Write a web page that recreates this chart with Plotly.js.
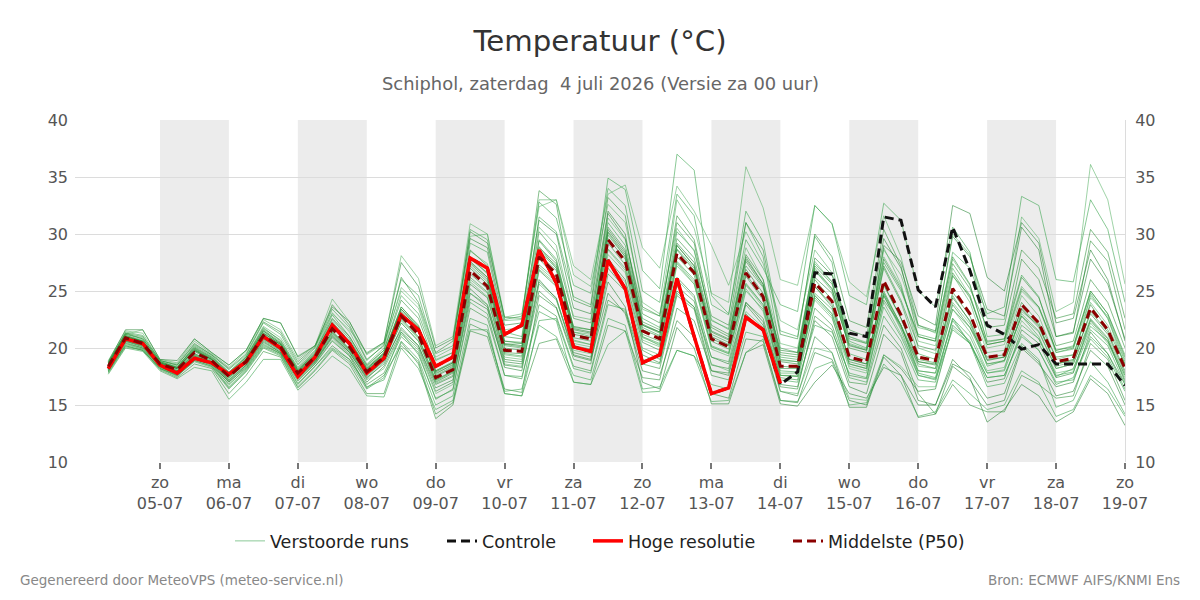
<!DOCTYPE html>
<html>
<head>
<meta charset="utf-8">
<script src="https://cdn.plot.ly/plotly-3.0.1.min.js"></script>
<style>
  html, body { margin: 0; padding: 0; background: #ffffff; }
  #chart { width: 1200px; height: 600px; }
</style>
</head>
<body>
<div id="chart"></div>
<script>
// Forecast run: 6-hourly steps starting Saturday 4 July 2026, 06 UTC
const runStart = Date.UTC(2026, 6, 4, 6, 0);
const stepHours = 6;

// Day ticks on the time axis
const dayTicks = ['2026-07-05', '2026-07-06', '2026-07-07', '2026-07-08', '2026-07-09',
  '2026-07-10', '2026-07-11', '2026-07-12', '2026-07-13', '2026-07-14', '2026-07-15',
  '2026-07-16', '2026-07-17', '2026-07-18', '2026-07-19'];
const dayNames = ['zo', 'ma', 'di', 'wo', 'do', 'vr', 'za', 'zo', 'ma', 'di', 'wo', 'do', 'vr', 'za', 'zo'];
const dayDates = ['05-07', '06-07', '07-07', '08-07', '09-07', '10-07', '11-07', '12-07',
  '13-07', '14-07', '15-07', '16-07', '17-07', '18-07', '19-07'];

// Alternate days get a grey background band
const shadedDays = ['2026-07-05', '2026-07-07', '2026-07-09', '2026-07-11',
  '2026-07-13', '2026-07-15', '2026-07-17'];

const yTicks = [10, 15, 20, 25, 30, 35, 40];

// High-resolution run (ends 14-07 00 UTC)
const hogeResolutie = [18.2, 20.8, 20.4, 18.5, 17.8, 19.1, 18.7, 17.7, 18.8, 21.0,
  20.0, 17.5, 19.2, 22.0, 20.4, 17.8, 19.1, 22.9, 21.6, 18.4,
  19.2, 27.9, 27.0, 21.2, 22.0, 28.6, 25.7, 20.1, 19.7, 27.7,
  25.2, 18.7, 19.4, 26.1, 21.0, 16.0, 16.5, 22.7, 21.6, 16.9];

// Control run
const controle = [18.2, 20.8, 20.4, 18.5, 17.8, 19.1, 18.7, 17.7, 18.8, 21.0,
  20.0, 17.5, 19.2, 22.0, 20.4, 17.8, 19.1, 22.9, 21.6, 18.4,
  19.2, 27.9, 27.0, 21.2, 22.0, 28.6, 25.7, 20.1, 19.7, 27.7,
  25.2, 18.7, 19.4, 26.1, 21.0, 16.0, 16.5, 22.7, 21.6, 16.8,
  17.9, 26.6, 26.5, 21.3, 21.0, 31.5, 31.2, 25.1, 23.6, 30.6,
  26.8, 22.0, 21.2, 19.9, 20.3, 18.6, 18.6, 18.6, 18.6, 16.7];

// Ensemble median
const middelste = [18.4, 20.9, 20.4, 18.6, 18.1, 19.6, 18.9, 17.5, 18.8, 21.1,
  20.1, 17.8, 19.2, 21.7, 20.1, 17.9, 19.2, 22.8, 21.2, 17.4,
  18.1, 26.8, 25.4, 19.8, 19.7, 28.0, 26.5, 21.1, 20.8, 29.5,
  27.6, 21.5, 20.8, 28.3, 26.6, 20.8, 20.1, 26.6, 24.5, 18.4,
  18.4, 25.7, 24.1, 19.2, 18.8, 25.9, 22.9, 19.2, 18.9, 25.2,
  23.0, 19.2, 19.4, 23.8, 22.2, 18.8, 19.1, 23.5, 21.6, 18.2];

// Perturbed ensemble members
const run01 = [18.6,21.3,20.8, 18.8,18.3,20.2,19.3, 17.9,19.2,21.8,20.6, 18.2,19.6,22.9,21.0, 18.4,19.8,24.6,23.0, 18.9,19.6,29.2,28.4, 21.4,21.0,31.5,30.2, 24.5,23.8,34.9,33.9, 26.8,25.2,37.0,35.6, 24.6,23.0,31.0,28.0, 20.0,19.6,27.4,25.8, 20.3,19.8,27.0,24.0, 19.5,19.0,24.6,22.3, 18.4,18.9,22.8,21.0, 17.5,18.2,21.9,20.6, 17.2];
const run02 = [18.0,20.4,20.0, 18.3,17.6,19.0,18.5, 16.8,18.2,20.3,19.5, 17.1,18.6,20.6,19.3, 16.5,17.6,20.2,18.8, 14.2,15.2,22.1,21.4, 16.4,16.1,24.6,23.5, 19.0,18.6,26.5,25.0, 19.8,19.0,25.4,24.1, 18.5,18.2,24.0,22.6, 17.4,17.2,23.5,22.0, 17.6,17.3,24.2,22.0, 18.8,18.5,26.3,24.6, 20.3,20.6,27.8,26.0, 21.0,21.3,29.4,27.6, 21.6];
const run03 = [18.5,21.0,20.6, 18.7,18.2,19.9,19.1, 17.6,19.0,21.4,20.3, 18.0,19.4,22.1,20.4, 18.1,19.6,23.1,21.5, 17.7,18.6,27.5,26.2, 20.3,20.4,28.9,27.0, 21.4,21.2,30.1,28.0, 21.0,20.2,27.4,25.6, 20.1,19.5,25.7,23.8, 18.9,18.8,26.8,25.0, 20.4,19.9,28.6,26.4, 21.8,21.4,30.0,28.2, 22.6,22.5,31.5,29.6, 23.2,24.0,36.1,33.0, 25.6];
const run04 = [18.1,20.6,20.1, 18.4,17.8,19.2,18.6, 17.0,18.4,20.6,19.6, 17.4,18.8,21.0,19.6, 17.3,18.8,21.6,20.2, 16.5,17.2,24.3,23.4, 18.5,18.3,25.0,23.6, 19.3,18.9,24.8,23.0, 18.0,17.6,22.4,21.0, 16.0,15.6,20.8,20.6, 15.4,15.2,19.6,19.0, 15.4,15.0,19.4,18.2, 16.2,16.4,22.0,20.6, 17.0,17.3,21.6,20.4, 17.4,17.8,22.5,20.8, 17.0];
const run05 = [18.7,21.4,21.1, 18.9,18.5,20.3,19.4, 18.1,19.4,22.2,21.2, 18.6,20.0,23.4,21.8, 18.9,20.3,26.0,24.6, 19.5,20.2,30.4,29.5, 22.5,22.8,32.8,31.4, 25.5,24.8,34.0,32.5, 25.0,24.0,33.5,31.6, 23.8,22.9,32.0,29.3, 21.5,21.0,29.8,27.5, 19.5,19.0,25.0,22.0, 17.8,17.4,22.6,20.4, 17.4,17.6,21.2,19.8, 16.8,17.4,21.0,19.5, 16.4];
const run06 = [18.3,20.8,20.3, 18.5,18.0,19.5,18.8, 17.4,18.7,21.0,20.0, 17.7,19.0,21.5,19.9, 17.8,19.1,22.6,21.0, 17.2,18.0,26.5,25.2, 19.6,19.5,27.8,26.2, 20.9,20.6,29.2,27.3, 21.2,20.6,28.0,26.4, 20.6,19.9,26.3,24.2, 18.2,18.2,25.4,23.8, 19.0,18.6,25.6,22.6, 19.0,18.7,24.9,22.8, 19.0,19.2,23.5,22.0, 18.6,18.9,23.2,21.4, 18.0];
const run07 = [18.9,21.5,21.3, 18.9,18.6,20.6,19.5, 18.3,19.7,22.5,21.6, 19.0,20.2,24.3,22.3, 19.4,20.4,25.0,23.5, 19.0,19.6,28.5,27.4, 21.6,21.8,30.6,29.0, 22.8,22.5,31.4,29.5, 23.4,22.8,33.0,30.5, 24.8,24.0,35.9,32.3, 26.0,25.5,32.5,30.9, 25.8,24.5,31.6,28.0, 22.0,21.3,27.8,25.5, 20.5,20.8,25.4,23.6, 19.8,20.2,25.0,23.0, 19.4];
const run08 = [18.2,20.7,20.2, 18.4,17.9,19.4,18.7, 17.2,18.5,20.8,19.8, 17.5,18.9,21.3,19.8, 17.5,18.9,22.2,20.6, 17.0,17.8,25.6,24.4, 19.0,18.8,26.8,25.4, 20.2,19.9,27.8,26.0, 20.5,19.8,26.2,24.6, 19.2,18.6,24.0,22.3, 16.8,16.6,22.4,21.0, 16.6,16.0,21.2,19.6, 15.4,15.0,19.0,17.4, 13.5,14.6,16.8,15.8, 13.5,14.4,17.3,16.0, 13.2];
const run09 = [18.6,21.1,20.7, 18.7,18.2,19.8,19.0, 17.7,19.0,21.5,20.4, 18.1,19.5,22.5,20.8, 18.2,19.5,23.6,22.0, 18.0,18.8,27.8,26.6, 20.6,20.5,29.5,27.8, 21.8,21.6,31.0,29.0, 22.6,21.8,30.2,28.6, 22.4,21.7,29.5,27.0, 23.8,23.2,32.5,30.9, 24.6,23.8,32.7,31.2, 25.0,23.6,30.6,28.4, 21.0,21.2,26.4,24.5, 19.6,20.0,24.8,22.6, 18.8];
const run10 = [17.8,20.1,19.8, 18.1,17.4,18.6,18.2, 16.0,17.6,19.7,19.2, 16.5,18.0,19.8,18.6, 16.0,16.0,20.5,18.6, 13.8,15.0,21.5,21.0, 16.0,15.8,20.4,20.8, 17.0,16.8,22.0,21.5, 17.4,17.2,23.5,22.4, 18.0,17.8,23.8,22.0, 17.6,17.5,24.6,23.0, 18.6,18.2,24.8,22.0, 18.0,17.8,23.4,21.8, 18.6,18.9,22.8,21.4, 18.2,18.6,22.4,20.6, 17.6];
const run11 = [18.8,21.2,21.6, 19.0,18.7,20.8,19.6, 18.5,19.8,22.6,22.2, 19.3,20.2,23.0,21.6, 19.6,20.5,28.1,26.1, 20.2,21.0,30.9,30.0, 22.7,23.0,32.4,33.0, 27.2,26.0,33.5,34.3, 28.8,27.0,34.2,32.0, 29.0,25.5,30.2,27.4, 22.4,21.6,28.6,26.6, 21.0,20.4,28.0,25.4, 20.6,20.2,27.0,24.6, 20.0,20.3,25.0,23.5, 19.6,19.9,24.4,22.8, 19.0];
const run12 = [18.2,20.5,20.0, 18.4,17.8,19.3,18.6, 17.0,18.3,20.5,19.6, 17.3,18.7,20.9,19.4, 17.0,18.4,21.4,20.0, 16.2,17.0,24.8,23.6, 18.3,18.0,25.8,24.4, 19.6,19.2,27.0,25.2, 19.4,18.7,25.0,23.6, 18.0,17.6,23.0,21.4, 16.2,15.8,21.0,19.6, 14.8,14.8,19.2,17.6, 13.9,14.2,18.4,17.2, 15.0,15.4,20.0,18.6, 16.6,17.0,21.4,19.5, 16.8];
const run13 = [18.5,21.0,20.5, 18.6,18.1,19.8,19.0, 17.5,18.9,21.2,20.2, 17.9,19.3,21.9,20.3, 18.0,19.3,23.0,21.4, 17.6,18.4,27.2,25.8, 20.2,20.0,28.5,27.0, 21.4,21.0,29.9,28.0, 21.8,21.1,28.7,27.0, 21.2,20.5,27.2,25.3, 19.2,19.0,26.8,25.2, 20.6,20.0,27.5,25.0, 21.2,20.8,28.4,27.0, 23.0,23.6,33.3,32.5, 26.0,25.8,33.0,30.4, 24.0];
const run14 = [18.0,20.2,19.8, 18.2,17.5,18.9,18.4, 16.5,18.0,20.1,19.4, 16.8,18.4,20.2,19.0, 16.8,17.8,21.0,19.6, 15.5,16.4,23.5,22.6, 17.6,17.3,23.8,22.8, 18.4,18.0,24.2,23.2, 18.6,18.2,24.6,23.4, 17.6,17.2,22.6,21.6, 16.6,16.4,22.8,21.6, 17.0,16.8,22.0,20.0, 16.0,14.2,16.8,15.0, 14.4,14.4,17.6,16.8, 15.6,15.8,20.4,19.0, 15.4];
const run15 = [18.7,21.2,20.9, 18.8,18.4,20.0,19.2, 17.9,19.3,21.9,20.9, 18.5,19.8,23.1,21.4, 18.6,20.0,25.3,23.8, 19.2,20.0,29.8,30.0, 22.4,22.5,33.0,33.0, 26.4,25.4,32.6,31.0, 24.0,23.0,30.5,28.5, 22.5,21.6,28.8,26.0, 20.4,20.0,27.6,25.8, 21.0,20.5,28.8,25.6, 20.0,19.5,26.4,24.0, 19.6,19.8,24.6,22.8, 19.0,19.4,24.0,22.0, 18.6];
const run16 = [18.1,20.6,20.2, 18.4,17.8,19.3,18.7, 17.1,18.5,20.7,19.7, 17.4,18.8,21.1,19.6, 17.4,18.6,21.8,20.2, 16.8,17.5,25.2,23.8, 18.8,18.6,26.0,24.3, 19.4,19.0,25.8,23.6, 17.0,16.4,21.8,20.0, 15.1,15.1,19.6,20.3, 15.1,14.9,17.0,18.5, 16.0,15.6,18.3,17.6, 15.0,15.0,18.6,17.8, 15.6,16.0,20.2,18.8, 15.8,16.2,19.8,18.4, 15.0];
const run17 = [17.9,20.3,19.9, 18.2,17.6,18.8,18.3, 16.4,17.9,20.0,19.3, 16.6,18.1,19.9,18.8, 16.4,17.4,21.4,19.4, 15.6,16.3,24.0,23.0, 17.6,17.5,23.2,22.4, 17.0,16.8,20.3,21.5, 16.1,16.2,19.8,19.3, 16.8,16.4,21.4,21.0, 17.2,17.0,22.0,21.4, 17.8,17.4,23.6,21.0, 17.6,17.2,21.6,20.4, 17.4,17.6,21.0,19.8, 17.0,17.2,20.8,19.2, 16.2];
const run18 = [18.5,21.1,20.6, 18.7,18.3,20.0,19.1, 17.8,19.1,21.6,20.5, 18.1,19.5,22.3,20.6, 18.3,19.6,23.6,21.9, 18.0,18.7,28.0,26.5, 20.6,20.4,29.4,27.6, 21.9,21.6,30.6,28.6, 22.3,21.6,29.6,27.9, 21.8,21.0,28.2,26.0, 19.4,19.2,27.0,25.2, 20.0,19.6,27.2,24.2, 20.2,19.8,26.6,24.4, 20.3,20.6,25.2,23.6, 19.8,20.1,25.0,23.0, 19.2];
const run19 = [18.2,20.6,20.1, 18.5,17.9,19.3,18.7, 17.2,18.6,20.8,19.8, 17.5,18.9,21.2,19.7, 17.6,18.9,22.2,20.6, 16.9,17.6,25.8,24.5, 19.2,19.0,26.9,25.6, 20.4,20.1,28.2,26.6, 20.7,20.1,27.2,25.6, 19.9,19.3,25.5,23.6, 17.6,17.6,24.6,23.0, 18.4,18.0,24.8,22.0, 18.4,18.2,24.0,22.1, 18.6,18.8,23.0,21.5, 18.2,18.6,22.6,20.9, 17.6];
const run20 = [18.4,20.9,20.5, 18.6,18.0,19.7,18.9, 17.5,18.9,21.3,20.3, 17.8,19.3,21.8,20.2, 18.0,19.4,23.2,21.6, 17.5,18.3,27.0,25.6, 20.0,19.8,28.2,26.8, 21.2,20.9,29.6,27.8, 21.6,21.0,28.6,26.8, 21.0,20.3,26.9,24.8, 18.8,18.6,26.2,24.8, 20.2,19.8,29.0,27.6, 22.8,22.0,32.5,31.8, 26.2,25.0,31.0,29.2, 22.2,22.6,28.6,26.0, 20.6];
const run21 = [18.3,20.7,20.3, 18.5,18.0,19.5,18.8, 17.4,18.8,21.0,19.9, 17.6,19.1,21.4,19.9, 17.7,19.0,22.5,20.9, 17.2,17.9,26.2,24.9, 19.5,19.3,27.3,26.0, 20.7,20.3,28.7,27.0, 21.0,20.4,27.6,26.0, 20.2,19.6,25.6,23.8, 17.8,17.8,24.8,23.4, 18.6,18.2,24.6,21.6, 17.6,17.3,22.4,20.4, 16.6,16.9,20.4,19.0, 14.8,15.4,18.8,17.0, 14.2];
const run22 = [18.6,21.2,20.8, 18.8,18.3,20.1,19.2, 17.8,19.2,21.7,20.7, 18.3,19.7,22.6,21.0, 18.5,19.8,24.2,22.6, 18.4,19.1,28.6,27.2, 21.0,20.8,30.2,28.4, 22.6,22.2,31.8,29.6, 23.0,22.2,31.6,29.5, 22.8,22.0,31.0,28.6, 21.2,20.8,30.0,28.0, 22.4,21.8,30.4,27.2, 21.0,20.6,28.0,25.6, 20.6,20.8,26.2,24.4, 20.2,20.6,26.0,24.0, 20.0];
const run23 = [18.0,20.4,19.9, 18.3,17.7,19.1,18.5, 16.8,18.2,20.4,19.5, 17.2,18.6,20.7,19.3, 17.2,18.2,21.2,19.8, 16.0,16.8,24.8,23.8, 18.6,18.4,25.6,24.2, 19.8,19.5,27.4,25.8, 20.0,19.4,26.0,24.4, 18.6,18.0,23.2,21.8, 16.2,16.0,20.0,19.6, 15.6,15.4,19.4,18.4, 16.6,16.6,21.8,20.4, 17.8,18.1,23.2,22.0, 18.4,18.8,24.6,22.6, 18.4];
const run24 = [18.8,21.6,21.6, 19.0,18.9,20.8,19.6, 18.5,19.8,22.6,22.2, 19.2,20.2,23.6,22.3, 19.5,20.5,27.5,25.4, 20.0,20.8,29.6,28.8, 22.0,22.2,31.2,30.0, 23.5,23.0,32.0,30.0, 22.0,21.4,29.0,27.2, 20.8,20.2,26.5,24.4, 18.4,18.3,25.4,23.6, 19.0,18.6,25.5,22.6, 18.8,18.6,24.4,22.4, 18.9,19.2,23.4,21.8, 18.6,19.0,23.0,21.2, 17.8];
const run25 = [17.7,20.0,19.7, 18.0,17.3,18.3,18.0, 15.5,17.0,19.0,19.0, 16.3,17.7,19.3,18.2, 15.8,15.7,20.0,18.2, 14.6,15.4,21.6,21.6, 16.2,16.4,22.0,21.0, 17.6,17.2,22.6,22.0, 16.4,16.6,19.8,19.3, 15.3,15.4,19.6,20.8, 15.4,15.3,18.2,18.8, 15.0,15.2,18.6,17.0, 14.0,14.4,17.2,16.0, 14.6,15.0,18.0,17.0, 14.0,14.6,17.6,16.4, 14.0];
const run26 = [18.4,21.0,20.6, 18.6,18.2,19.8,19.0, 17.6,19.0,21.3,20.3, 17.9,19.3,22.0,20.3, 18.1,19.4,23.4,21.7, 17.8,18.5,27.4,26.0, 20.3,20.1,28.6,27.2, 21.6,21.3,30.2,28.2, 22.0,21.3,29.0,27.2, 21.4,20.7,27.6,25.4, 19.6,19.4,27.2,25.6, 20.8,20.4,27.8,25.2, 21.0,20.6,27.4,25.2, 21.8,22.0,28.6,27.0, 22.6,23.0,30.4,28.4, 22.6];
const run27 = [18.3,20.8,20.3, 18.5,17.9,19.4,18.8, 17.3,18.7,20.9,19.9, 17.6,19.0,21.4,19.8, 17.7,19.0,22.4,20.8, 17.1,17.9,26.0,24.8, 19.4,19.2,27.1,25.8, 20.6,20.3,28.6,26.8, 20.9,20.3,27.5,25.8, 20.1,19.5,25.2,23.2, 17.6,17.5,24.2,22.6, 18.2,17.8,24.0,21.2, 18.0,17.8,23.4,21.4, 18.0,18.3,22.4,20.8, 17.8,18.1,22.2,20.4, 17.4];
const run28 = [18.6,21.0,20.6, 18.7,18.2,19.9,19.0, 17.7,19.0,21.5,20.4, 18.0,19.4,22.2,20.5, 18.2,19.5,23.4,21.8, 17.9,18.7,27.6,26.2, 20.4,20.2,28.8,27.4, 21.7,21.4,30.4,28.4, 22.1,21.4,29.2,27.5, 21.5,20.8,27.8,25.6, 19.8,19.6,27.9,26.4, 21.6,21.0,29.6,27.0, 22.0,21.5,29.8,28.0, 23.4,22.8,30.6,28.6, 21.0,21.4,27.8,25.6, 20.8];
const run29 = [17.9,20.2,19.8, 18.2,17.6,18.9,18.4, 16.6,18.1,20.2,19.5, 16.9,18.4,20.0,19.0, 16.6,17.2,20.6,19.0, 15.0,15.8,22.6,22.0, 16.0,15.8,22.4,22.6, 18.2,17.8,23.8,23.4, 19.0,18.6,24.8,23.6, 19.2,18.8,25.0,23.4, 18.0,17.9,24.4,22.8, 17.4,17.0,22.8,20.6, 17.2,17.0,22.6,21.0, 17.8,18.0,22.0,20.8, 17.6,17.9,21.6,20.2, 16.8];
const run30 = [18.7,21.3,21.0, 18.9,18.5,20.4,19.4, 18.2,19.5,22.3,21.4, 18.8,20.1,23.8,22.0, 19.0,20.2,26.2,24.0, 19.6,20.6,30.2,29.2, 22.7,22.6,33.8,32.6, 24.2,23.6,33.2,31.6, 23.6,22.8,31.0,29.2, 22.0,21.2,28.0,25.6, 19.0,18.8,26.0,24.2, 18.8,18.4,24.6,21.8, 18.6,18.2,23.8,21.8, 19.2,19.4,24.0,22.2, 19.2,19.4,23.8,21.6, 18.6];

const members = [run01, run02, run03, run04, run05, run06, run07, run08, run09, run10,
  run11, run12, run13, run14, run15, run16, run17, run18, run19, run20,
  run21, run22, run23, run24, run25, run26, run27, run28, run29, run30];

const memberColors = ['rgba(60,165,80,0.6)', 'rgba(34,139,45,0.55)', 'rgba(80,175,95,0.55)', 'rgba(25,125,40,0.55)'];

// Timestamps for the 6-hourly steps
function stepTime(i) {
  const d = new Date(runStart + i * stepHours * 3600 * 1000);
  return d.toISOString().slice(0, 16).replace('T', ' ');
}
function timesFor(series) {
  return series.map((_, i) => stepTime(i));
}

const traces = [];
members.forEach((m, k) => {
  traces.push({
    type: 'scatter', mode: 'lines',
    x: timesFor(m), y: m,
    name: 'Verstoorde runs',
    legendgroup: 'runs',
    showlegend: k === 0,
    legendwidth: 167,
    line: { color: memberColors[k % memberColors.length], width: 1 },
    hoverinfo: 'skip'
  });
});
traces.push({
  type: 'scatter', mode: 'lines', x: timesFor(controle), y: controle,
  name: 'Controle', legendwidth: 101,
  line: { color: '#111111', width: 3, dash: '9px,5px' }
});
traces.push({
  type: 'scatter', mode: 'lines', x: timesFor(hogeResolutie), y: hogeResolutie,
  name: 'Hoge resolutie', legendwidth: 155,
  line: { color: '#ff0000', width: 3.5 }
});
traces.push({
  type: 'scatter', mode: 'lines', x: timesFor(middelste), y: middelste,
  name: 'Middelste (P50)',
  line: { color: '#8b0000', width: 3, dash: '9px,5px' }
});
// carrier for the right-hand temperature scale
traces.push({
  type: 'scatter', mode: 'lines', x: [], y: [], yaxis: 'y2',
  showlegend: false, hoverinfo: 'skip'
});

const shapes = shadedDays.map(d => {
  const start = new Date(d + 'T00:00:00Z');
  const end = new Date(start.getTime() + 24 * 3600 * 1000);
  return {
    type: 'rect', xref: 'x', yref: 'paper',
    x0: d, x1: end.toISOString().slice(0, 10), y0: 0, y1: 1,
    fillcolor: '#ececec', line: { width: 0 }, layer: 'below'
  };
});

const tickFont = { family: 'DejaVu Sans', size: 16, color: '#555555' };

const layout = {
  width: 1200, height: 600,
  paper_bgcolor: '#ffffff', plot_bgcolor: '#ffffff',
  font: { family: 'DejaVu Sans', color: '#333333' },
  margin: { l: 75, r: 75, t: 120, b: 138 },
  title: {
    text: 'Temperatuur (°C)',
    font: { family: 'DejaVu Sans', size: 29.2, color: '#333333' },
    x: 0.5, xanchor: 'center', y: 1 - 41 / 600, yanchor: 'middle', yref: 'container'
  },
  xaxis: {
    type: 'date',
    range: ['2026-07-03 18:25', '2026-07-19 00:00'],
    tickvals: dayTicks,
    ticktext: dayNames.map((n, i) => n + '<br>' + dayDates[i]),
    ticks: 'outside', ticklen: 6, tickwidth: 2, tickcolor: '#777777',
    showgrid: false, zeroline: false, showline: false,
    tickfont: tickFont
  },
  yaxis: {
    range: [10, 40], tickvals: yTicks,
    showgrid: true, gridcolor: '#dcdcdc', gridwidth: 1,
    zeroline: false, showline: false,
    ticks: '', ticklabelstandoff: 6,
    tickfont: tickFont
  },
  yaxis2: {
    overlaying: 'y', side: 'right',
    range: [10, 40], tickvals: yTicks,
    showgrid: false, zeroline: false,
    showline: true, linecolor: '#dcdcdc', linewidth: 1,
    ticks: '', ticklabelstandoff: 6,
    tickfont: tickFont
  },
  shapes: shapes,
  showlegend: true,
  legend: {
    orientation: 'h', x: 0.5, xanchor: 'center', y: -0.231, yanchor: 'middle',
    font: { family: 'DejaVu Sans', size: 17.5, color: '#222222' },
    bgcolor: 'rgba(0,0,0,0)'
  },
  annotations: [
    {
      text: 'Schiphol, zaterdag \u00a04 juli 2026 (Versie za 00 uur)',
      xref: 'paper', yref: 'paper', x: 0.5, y: (462 - 83) / 342,
      xanchor: 'center', yanchor: 'middle', showarrow: false,
      font: { family: 'DejaVu Sans', size: 17.9, color: '#666666' }
    },
    {
      text: 'Gegenereerd door MeteoVPS (meteo-service.nl)',
      xref: 'paper', yref: 'paper', x: (18 - 75) / 1050, y: (462 - 580) / 342,
      xanchor: 'left', yanchor: 'middle', showarrow: false,
      font: { family: 'DejaVu Sans', size: 13.5, color: '#888888' }
    },
    {
      text: 'Bron: ECMWF AIFS/KNMI Ens',
      xref: 'paper', yref: 'paper', x: (1182 - 75) / 1050, y: (462 - 580) / 342,
      xanchor: 'right', yanchor: 'middle', showarrow: false,
      font: { family: 'DejaVu Sans', size: 13.5, color: '#888888' }
    }
  ]
};

Plotly.newPlot('chart', traces, layout, { displayModeBar: false, staticPlot: true });
</script>
</body>
</html>
